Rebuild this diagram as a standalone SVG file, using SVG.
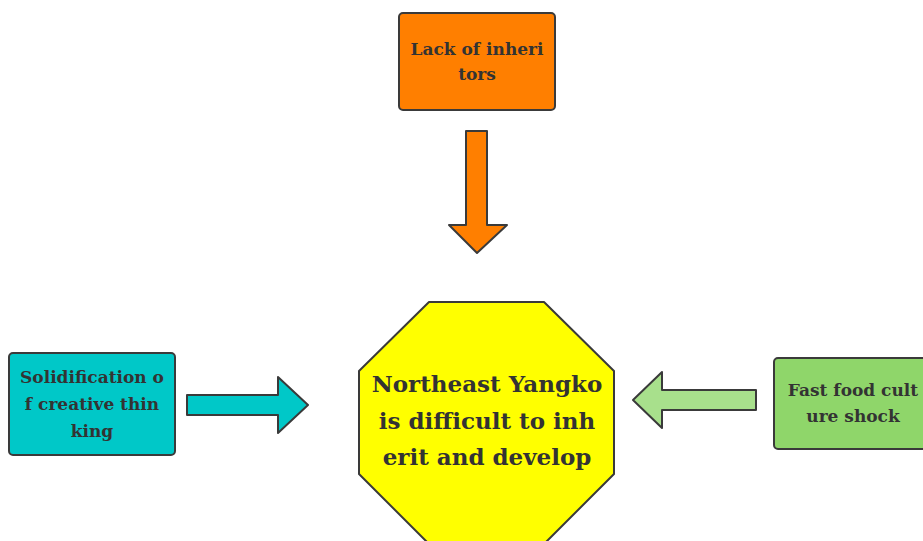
<svg xmlns="http://www.w3.org/2000/svg" width="923" height="541" viewBox="0 0 923 541">
<style>
.s{stroke:#3a3a3a;stroke-width:2;stroke-linejoin:round}
.t{font-family:"DejaVu Serif","Liberation Serif",serif;fill:#333333;text-anchor:middle;font-weight:bold}
.sm{font-size:17px}
.lg{font-size:23px}
</style>
<rect width="923" height="541" fill="#ffffff"/>
<g id="connectors">
<path class="s" fill="#FF7F00" d="M466,131 H487 V225 H507 L477,253 L449,225 H466 Z"/>
<path class="s" fill="#00C8C8" d="M187,395 H278 V377 L308,405 L278,433 V415 H187 Z"/>
<path class="s" fill="#A8E08C" d="M756,390 H662 V372 L633,400 L662,428 V410 H756 Z"/>
</g>
<g id="lack">
<rect class="s" fill="#FF7F00" x="399" y="13" width="156" height="97" rx="4"/>
<text class="t sm" x="477" y="55">Lack of inheri</text>
<text class="t sm" x="477" y="80">tors</text>
</g>
<g id="solid">
<rect class="s" fill="#00C8C8" x="9" y="353" width="166" height="102" rx="4"/>
<text class="t sm" x="92" y="383">Solidification o</text>
<text class="t sm" x="92" y="410">f creative thin</text>
<text class="t sm" x="92" y="437">king</text>
</g>
<g id="fastfood">
<rect class="s" fill="#8FD66A" x="774" y="358" width="158" height="91" rx="4"/>
<text class="t sm" x="853" y="396">Fast food cult</text>
<text class="t sm" x="853" y="422">ure shock</text>
</g>
<g id="center">
<path class="s" fill="#FFFF00" d="M429,302 H544 L614,371 V474 L545,543 H428 L359,474 V371 Z"/>
<text class="t lg" x="487" y="392">Northeast Yangko</text>
<text class="t lg" x="487" y="429">is difficult to inh</text>
<text class="t lg" x="487" y="465">erit and develop</text>
</g>
</svg>
